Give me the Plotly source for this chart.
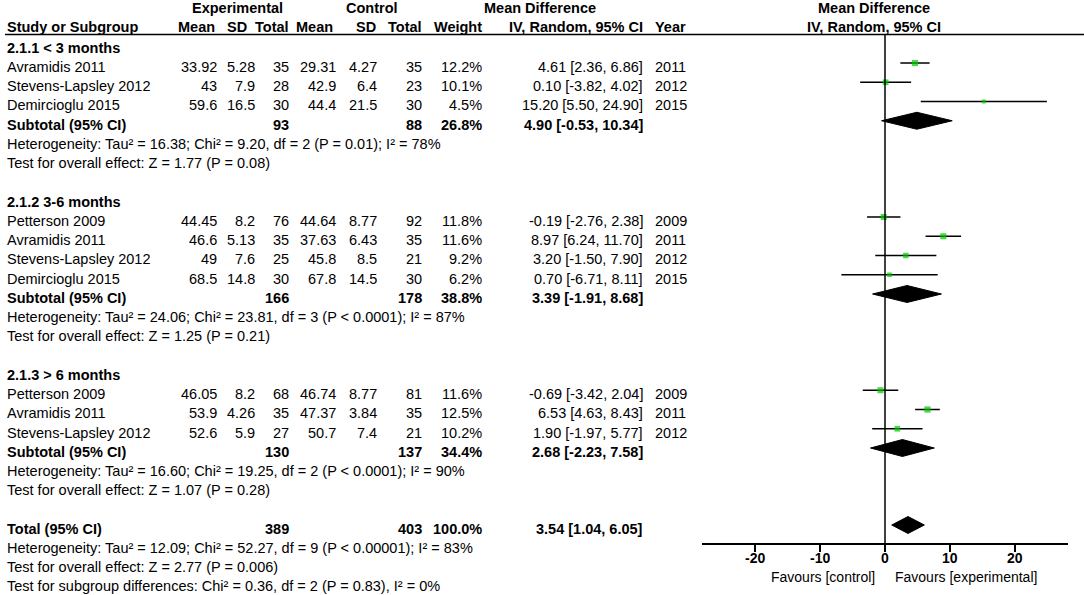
import plotly.graph_objects as go

# study level data
group_labels = ["2.1.1 < 3 months", "2.1.2 3-6 months", "2.1.3 > 6 months"]
study = ["Avramidis 2011", "Stevens-Lapsley 2012", "Demircioglu 2015",
         "Petterson 2009", "Avramidis 2011", "Stevens-Lapsley 2012", "Demircioglu 2015",
         "Petterson 2009", "Avramidis 2011", "Stevens-Lapsley 2012"]
group = [0, 0, 0, 1, 1, 1, 1, 2, 2, 2]
exp_mean = [33.92, 43, 59.6, 44.45, 46.6, 49, 68.5, 46.05, 53.9, 52.6]
exp_sd = [5.28, 7.9, 16.5, 8.2, 5.13, 7.6, 14.8, 8.2, 4.26, 5.9]
exp_n = [35, 28, 30, 76, 35, 25, 30, 68, 35, 27]
ctl_mean = [29.31, 42.9, 44.4, 44.64, 37.63, 45.8, 67.8, 46.74, 47.37, 50.7]
ctl_sd = [4.27, 6.4, 21.5, 8.77, 6.43, 8.5, 14.5, 8.77, 3.84, 7.4]
ctl_n = [35, 23, 30, 92, 35, 21, 30, 81, 35, 21]
weight = [12.2, 10.1, 4.5, 11.8, 11.6, 9.2, 6.2, 11.6, 12.5, 10.2]
md = [4.61, 0.10, 15.20, -0.19, 8.97, 3.20, 0.70, -0.69, 6.53, 1.90]
md_lo = [2.36, -3.82, 5.50, -2.76, 6.24, -1.50, -6.71, -3.42, 4.63, -1.97]
md_hi = [6.86, 4.02, 24.90, 2.38, 11.70, 7.90, 8.11, 2.04, 8.43, 5.77]
year = [2011, 2012, 2015, 2009, 2011, 2012, 2015, 2009, 2011, 2012]

# subgroup totals
sub_exp_n = [93, 166, 130]
sub_ctl_n = [88, 178, 137]
sub_weight = [26.8, 38.8, 34.4]
sub_md = [4.90, 3.39, 2.68]
sub_lo = [-0.53, -1.91, -2.23]
sub_hi = [10.34, 8.68, 7.58]
sub_het = ["Heterogeneity: Tau² = 16.38; Chi² = 9.20, df = 2 (P = 0.01); I² = 78%",
           "Heterogeneity: Tau² = 24.06; Chi² = 23.81, df = 3 (P < 0.0001); I² = 87%",
           "Heterogeneity: Tau² = 16.60; Chi² = 19.25, df = 2 (P < 0.0001); I² = 90%"]
sub_test = ["Test for overall effect: Z = 1.77 (P = 0.08)",
            "Test for overall effect: Z = 1.25 (P = 0.21)",
            "Test for overall effect: Z = 1.07 (P = 0.28)"]

# overall
tot_exp_n = 389
tot_ctl_n = 403
tot_weight = 100.0
tot_md, tot_lo, tot_hi = 3.54, 1.04, 6.05
tot_notes = ["Heterogeneity: Tau² = 12.09; Chi² = 52.27, df = 9 (P < 0.00001); I² = 83%",
             "Test for overall effect: Z = 2.77 (P = 0.006)",
             "Test for subgroup differences: Chi² = 0.36, df = 2 (P = 0.83), I² = 0%"]

xticks = [-20, -10, 0, 10, 20]
xtick_labels = ["-20", "-10", "0", "10", "20"]

FONT = "Liberation Sans, Arial, sans-serif"
FS = 14.5
GREEN = "#00c800"

W, H = 1084, 595
top_px, pitch = 43.75, 19.25
axis_px = 544
text_drop = 3.8 / pitch   # table text sits a little below the marks


def row_of(px):
    # pixel height -> row units on the table axis
    return (px - top_px) / pitch


# work out which row each line of the table sits on
study_row, sub_row, head_row = [], [], []
r = 0
for g in range(len(group_labels)):
    head_row.append(r)
    r += 1
    for i in range(len(study)):
        if group[i] == g:
            study_row.append(r)
            r += 1
    sub_row.append(r)
    r += 4
tot_row = r

ann = []


def txt(x, row, s, anchor="right", bold=False, xref="x", size=FS):
    ann.append(dict(x=x, y=row, xref=xref, yref="y", text=f"<b>{s}</b>" if bold else str(s),
                    showarrow=False, xanchor=anchor, yanchor="middle",
                    font=dict(family=FONT, size=size, color="black")))


def row_txt(x, row, s, anchor="right", bold=False):
    txt(x, row + text_drop, s, anchor, bold)


# column x positions (pixels)
cx = dict(em=219, es=257, en=291, cm=338, cs=379, cn=424, w=484, ci=645, yr=653)

# header
h1, h2 = row_of(8), row_of(26.5)
txt(237, h1, "Experimental", "center", True)
txt(372, h1, "Control", "center", True)
txt(540, h1, "Mean Difference", "center", True)
txt(874, h1, "Mean Difference", "center", True)
txt(5, h2, "Study or Subgroup", "left", True)
txt(217, h2, "Mean", bold=True)
txt(249, h2, "SD", bold=True)
txt(291, h2, "Total", bold=True)
txt(335, h2, "Mean", bold=True)
txt(378, h2, "SD", bold=True)
txt(cx["cn"], h2, "Total", bold=True)
txt(cx["w"], h2, "Weight", bold=True)
txt(cx["ci"], h2, "IV, Random, 95% CI", bold=True)
txt(cx["yr"], h2, "Year", "left", True)
txt(874, h2, "IV, Random, 95% CI", "center", True)

for g, lab in enumerate(group_labels):
    row_txt(5, head_row[g], lab, "left", True)
    rr = sub_row[g]
    row_txt(5, rr, "Subtotal (95% CI)", "left", True)
    row_txt(cx["en"], rr, sub_exp_n[g], bold=True)
    row_txt(cx["cn"], rr, sub_ctl_n[g], bold=True)
    row_txt(cx["w"], rr, f"{sub_weight[g]:.1f}%", bold=True)
    row_txt(cx["ci"], rr, f"{sub_md[g]:.2f} [{sub_lo[g]:.2f}, {sub_hi[g]:.2f}]", bold=True)
    row_txt(5, rr + 1, sub_het[g], "left")
    row_txt(5, rr + 2, sub_test[g], "left")

for i, rr in enumerate(study_row):
    row_txt(5, rr, study[i], "left")
    row_txt(cx["em"], rr, f"{exp_mean[i]:g}")
    row_txt(cx["es"], rr, f"{exp_sd[i]:g}")
    row_txt(cx["en"], rr, exp_n[i])
    row_txt(cx["cm"], rr, f"{ctl_mean[i]:g}")
    row_txt(cx["cs"], rr, f"{ctl_sd[i]:g}")
    row_txt(cx["cn"], rr, ctl_n[i])
    row_txt(cx["w"], rr, f"{weight[i]:.1f}%")
    row_txt(cx["ci"], rr, f"{md[i]:.2f} [{md_lo[i]:.2f}, {md_hi[i]:.2f}]")
    row_txt(cx["yr"], rr, year[i], "left")

row_txt(5, tot_row, "Total (95% CI)", "left", True)
row_txt(cx["en"], tot_row, tot_exp_n, bold=True)
row_txt(cx["cn"], tot_row, tot_ctl_n, bold=True)
row_txt(cx["w"], tot_row, f"{tot_weight:.1f}%", bold=True)
row_txt(cx["ci"], tot_row, f"{tot_md:.2f} [{tot_lo:.2f}, {tot_hi:.2f}]", bold=True)
for k, note in enumerate(tot_notes):
    row_txt(5, tot_row + 1 + k * 0.99, note, "left")

# tick labels and favours labels under the axis
for v, lab in zip(xticks, xtick_labels):
    txt(v, row_of(557.5), lab, "center", True, xref="x2", size=14)
txt(-1.2, row_of(576.5), "Favours [control]", "right", xref="x2", size=14)
txt(1.2, row_of(576.5), "Favours [experimental]", "left", xref="x2", size=14)

fig = go.Figure()

# confidence interval lines
ci_x, ci_y = [], []
for i, rr in enumerate(study_row):
    ci_x += [md_lo[i], md_hi[i], None]
    ci_y += [rr, rr, None]
fig.add_trace(go.Scatter(x=ci_x, y=ci_y, mode="lines", line=dict(color="black", width=1.5),
                         xaxis="x2", yaxis="y", hoverinfo="skip"))

# weighted squares
fig.add_trace(go.Scatter(x=md, y=study_row, mode="markers", xaxis="x2", yaxis="y",
                         marker=dict(symbol="square", color=GREEN,
                                     size=[1.6 * w ** 0.5 + 0.6 for w in weight],
                                     line=dict(width=0)),
                         hoverinfo="skip"))

# diamonds for pooled estimates
h = 0.44
pooled = list(zip(sub_md, sub_lo, sub_hi, sub_row)) + [(tot_md, tot_lo, tot_hi, tot_row)]
for est, lo, hi, rr in pooled:
    fig.add_trace(go.Scatter(x=[lo, est, hi, est, lo], y=[rr, rr - h, rr, rr + h, rr],
                             mode="lines", fill="toself", fillcolor="black",
                             line=dict(color="black", width=1), xaxis="x2", yaxis="y",
                             hoverinfo="skip"))

fig.update_layout(
    width=W, height=H,
    margin=dict(l=0, r=0, t=0, b=0),
    plot_bgcolor="white", paper_bgcolor="white",
    showlegend=False,
    annotations=ann,
    xaxis=dict(range=[0, W], domain=[0, 1], visible=False),
    yaxis=dict(range=[row_of(H), row_of(0)], domain=[0, 1], visible=False),
    xaxis2=dict(range=[-28.15, 28.15], domain=[702 / W, 1068 / W], anchor="free",
                position=(H - axis_px) / H, showgrid=False, zeroline=False,
                showline=True, linecolor="black", linewidth=1.5,
                ticks="outside", ticklen=7, tickwidth=1.5, tickcolor="black",
                tickvals=xticks, showticklabels=False),
    shapes=[
        # header underline
        dict(type="line", xref="x", yref="y", x0=5, x1=W, y0=row_of(34.5), y1=row_of(34.5),
             line=dict(color="black", width=1.5)),
        # line of no effect
        dict(type="line", xref="x2", yref="y", x0=0, x1=0, y0=row_of(34.5),
             y1=row_of(axis_px), line=dict(color="black", width=1.5)),
    ],
)

fig.write_html("out.html", config={"displayModeBar": False},
               post_script="document.body.style.margin='0';")
